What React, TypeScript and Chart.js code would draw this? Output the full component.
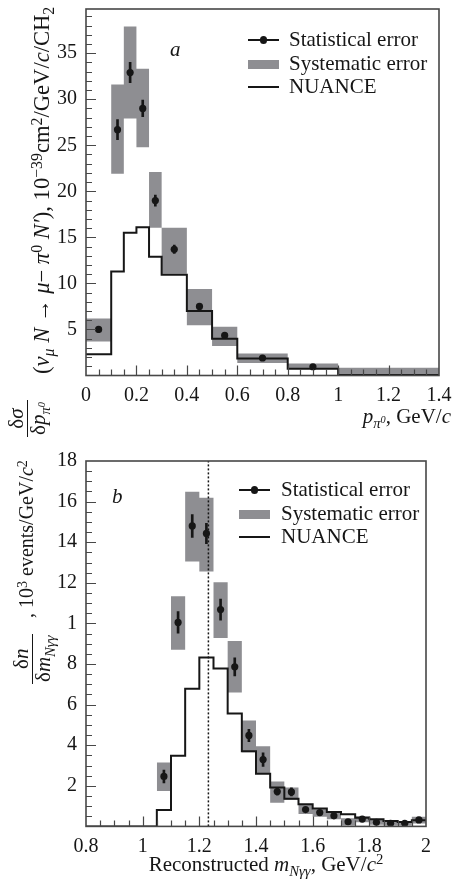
import React, { useEffect, useRef } from 'react';
import { Chart, registerables } from 'chart.js';

Chart.register(...registerables);

const SERIF = "'Liberation Serif', 'Times New Roman', serif";
const INK = '#161616';
const FRAME = '#474747';
const SYS_GRAY = '#8e8e92';

// ---------------- Panel a (pi0 momentum) ----------------
const aEdges = [0, 0.1, 0.15, 0.2, 0.25, 0.3, 0.4, 0.5, 0.6, 0.8, 1.0, 1.4];
const aSysHigh = [6.2, 31.6, 37.9, 33.3, 22.1, 16.05, 9.4, 5.3, 2.4, 1.3, 0.83];
const aSysLow = [3.7, 21.9, 27.9, 24.8, 16.05, 11.06, 5.45, 3.2, 1.37, 0.72, 0.1];
const aNuance = [2.3, 11.3, 15.5, 16.1, 12.9, 10.95, 7.0, 4.0, 1.84, 0.72, 0.05];
const aPointX = [0.05, 0.125, 0.175, 0.225, 0.275, 0.35, 0.45, 0.55, 0.7, 0.9];
const aValues = [5.0, 26.7, 32.9, 29.0, 19.0, 13.7, 7.5, 4.35, 1.9, 0.95];
const aStatErr = [0.35, 1.1, 1.1, 0.9, 0.6, 0.45, 0.3, 0.25, 0.2, 0.15];
const aXTickValues = [0, 0.2, 0.4, 0.6, 0.8, 1, 1.2, 1.4];
const aXTickLabels = ['0', '0.2', '0.4', '0.6', '0.8', '1', '1.2', '1.4'];
const aYTickValues = [5, 10, 15, 20, 25, 30, 35];
const aYTickLabels = ['5', '10', '15', '20', '25', '30', '35'];

// ---------------- Panel b (reconstructed N-gamma-gamma mass) ----------------
const bEdges = [0.8, 1.05, 1.1, 1.15, 1.2, 1.25, 1.3, 1.35, 1.4, 1.45, 1.5, 1.55, 1.6, 1.65, 1.7, 1.75, 1.8, 1.85, 1.9, 1.95, 2.0];
const bNuance = [0, 0.81, 3.48, 6.78, 8.32, 7.78, 5.56, 3.7, 2.59, 1.92, 1.36, 1.09, 0.88, 0.71, 0.6, 0.43, 0.35, 0.27, 0.22, 0.3];
const bSysEdges = [1.05, 1.1, 1.15, 1.2, 1.25, 1.3, 1.35, 1.4, 1.45, 1.5, 1.55, 1.6, 1.65, 1.7, 1.75, 1.8, 1.85, 1.9, 1.95, 2.0];
const bSysHigh = [3.15, 11.34, 16.49, 16.19, 12.03, 9.13, 5.22, 3.95, 2.21, 1.92, 1.08, 0.85, 0.7, 0.4, 0.5, 0.33, 0.25, 0.25, 0.47];
const bSysLow = [1.75, 8.7, 13.05, 12.56, 9.28, 6.59, 3.65, 2.58, 1.17, 1.31, 0.61, 0.48, 0.35, 0.05, 0.2, 0.08, 0.05, 0.05, 0.14];
const bPointX = [1.075, 1.125, 1.175, 1.225, 1.275, 1.325, 1.375, 1.425, 1.475, 1.525, 1.575, 1.625, 1.675, 1.725, 1.775, 1.825, 1.875, 1.925, 1.975];
const bValues = [2.46, 10.05, 14.8, 14.43, 10.68, 7.86, 4.48, 3.29, 1.72, 1.7, 0.83, 0.68, 0.52, 0.23, 0.36, 0.2, 0.15, 0.15, 0.32];
const bStatErr = [0.32, 0.53, 0.56, 0.5, 0.52, 0.45, 0.3, 0.33, 0.18, 0.2, 0.1, 0.1, 0.08, 0.06, 0.06, 0.05, 0.05, 0.05, 0.06];
const bDeltaMass = 1.232;
const bXTickValues = [0.8, 1, 1.2, 1.4, 1.6, 1.8, 2];
const bXTickLabels = ['0.8', '1', '1.2', '1.4', '1.6', '1.8', '2'];
const bYTickValues = [2, 4, 6, 8, 10, 12, 14, 16, 18];
const bYTickLabels = ['2', '4', '6', '8', '1', '12', '14', '16', '18'];

const legendLabels = ['Statistical error', 'Systematic error', 'NUANCE'];

// histogram outline: value of bin i held from edge i to edge i+1
function steps(edges: number[], vals: number[]) {
  const pts = [{ x: edges[0], y: vals[0] }];
  vals.forEach((v, i) => pts.push({ x: edges[i + 1], y: v }));
  return pts;
}

function errorBars(xs: number[], vals: number[], errs: number[]) {
  return xs.map((x, i) => ({ x, y: [vals[i] - errs[i], vals[i] + errs[i]] }));
}

const frameTicks = {
  id: 'frameTicks',
  afterDraw(chart: any, _args: any, opts: any) {
    const { ctx, chartArea: a, scales } = chart;
    const xs = scales.x;
    const ys = scales.y;
    ctx.save();
    ctx.strokeStyle = FRAME;
    ctx.lineWidth = 1.2;
    const isMajor = (v: number, step: number) => Math.abs(v / step - Math.round(v / step)) < 1e-6;
    const nx = Math.round((xs.max - xs.min) / opts.xMinor);
    ctx.beginPath();
    for (let i = 1; i < nx; i++) {
      const v = xs.min + i * opts.xMinor;
      const px = Math.round(xs.getPixelForValue(v)) + 0.5;
      const len = isMajor(v, opts.xMajor) ? 10 : 6;
      ctx.moveTo(px, a.bottom);
      ctx.lineTo(px, a.bottom - len);
    }
    const ny = Math.floor((ys.max - ys.min) / opts.yMinor + 1e-6);
    for (let i = 1; i <= ny; i++) {
      const v = ys.min + i * opts.yMinor;
      if (v >= ys.max - 1e-6) continue;
      const py = Math.round(ys.getPixelForValue(v)) + 0.5;
      const len = isMajor(v, opts.yMajor) ? 10 : 6;
      ctx.moveTo(a.left, py);
      ctx.lineTo(a.left + len, py);
    }
    ctx.stroke();
    ctx.lineWidth = 1.6;
    ctx.strokeRect(a.left, a.top, a.right - a.left, a.bottom - a.top);
    ctx.restore();
  },
};

interface PanelSpec {
  width: number;
  height: number;
  areaTop: number;
  padRight: number;
  xHeight: number;
  yWidth: number;
  xMin: number;
  xMax: number;
  yMax: number;
  xTickValues: number[];
  xTickLabels: string[];
  yTickValues: number[];
  yTickLabels: string[];
  ticks: { xMajor: number; xMinor: number; yMajor: number; yMinor: number };
  datasets: any[];
}

const labelFor = (vals: number[], labels: string[]) => (v: any) => {
  const i = vals.findIndex((t) => Math.abs(t - Number(v)) < 1e-9);
  return i >= 0 ? labels[i] : '';
};

function makeConfig(p: PanelSpec): any {
  const tickFont = { family: SERIF, size: 20 };
  return {
    type: 'scatter',
    data: { datasets: p.datasets },
    options: {
      responsive: false,
      maintainAspectRatio: false,
      animation: false,
      devicePixelRatio: 1,
      events: [],
      layout: { padding: { left: 0, top: p.areaTop, right: p.padRight, bottom: 0 } },
      plugins: {
        legend: { display: false },
        tooltip: { enabled: false },
        title: { display: false },
        frameTicks: p.ticks,
      },
      scales: {
        x: {
          type: 'linear',
          min: p.xMin,
          max: p.xMax,
          offset: false,
          grid: { display: false, drawTicks: false },
          border: { display: false },
          afterBuildTicks: (s: any) => {
            s.ticks = p.xTickValues.map((v) => ({ value: v }));
          },
          ticks: {
            callback: labelFor(p.xTickValues, p.xTickLabels),
            font: tickFont,
            color: INK,
            padding: 8,
            maxRotation: 0,
            minRotation: 0,
            autoSkip: false,
          },
          afterFit: (s: any) => {
            s.height = p.xHeight;
            s.paddingLeft = 0;
            s.paddingRight = 0;
          },
        },
        y: {
          type: 'linear',
          min: 0,
          max: p.yMax,
          grid: { display: false, drawTicks: false },
          border: { display: false },
          afterBuildTicks: (s: any) => {
            s.ticks = p.yTickValues.map((v) => ({ value: v }));
          },
          ticks: {
            callback: labelFor(p.yTickValues, p.yTickLabels),
            font: tickFont,
            color: INK,
            padding: 9,
            autoSkip: false,
          },
          afterFit: (s: any) => {
            s.width = p.yWidth;
            s.paddingTop = 0;
            s.paddingBottom = 0;
          },
        },
      },
    },
    plugins: [frameTicks],
  };
}

function commonDatasets(
  pointX: number[], values: number[], errs: number[],
  nuanceEdges: number[], nuance: number[],
  sysEdges: number[], sysHigh: number[], sysLow: number[],
) {
  return [
    {
      type: 'scatter',
      label: legendLabels[0],
      data: pointX.map((x, i) => ({ x, y: values[i] })),
      pointRadius: 3.6,
      pointBackgroundColor: INK,
      pointBorderWidth: 0,
      order: 0,
    },
    {
      type: 'bar',
      label: 'stat-bars',
      data: errorBars(pointX, values, errs),
      barThickness: 2,
      backgroundColor: INK,
      borderWidth: 0,
      order: 1,
    },
    {
      type: 'line',
      label: legendLabels[2],
      data: steps(nuanceEdges, nuance),
      stepped: 'after',
      borderColor: INK,
      borderWidth: 2,
      pointRadius: 0,
      fill: false,
      order: 2,
    },
    {
      type: 'line',
      label: legendLabels[1],
      data: steps(sysEdges, sysHigh),
      stepped: 'after',
      borderWidth: 0,
      borderColor: 'rgba(0,0,0,0)',
      backgroundColor: SYS_GRAY,
      pointRadius: 0,
      fill: '+1',
      order: 4,
    },
    {
      type: 'line',
      label: 'sys-low',
      data: steps(sysEdges, sysLow),
      stepped: 'after',
      borderWidth: 0,
      borderColor: 'rgba(0,0,0,0)',
      pointRadius: 0,
      fill: false,
      order: 5,
    },
  ];
}

const specA: PanelSpec = {
  width: 456,
  height: 440,
  areaTop: 9,
  padRight: 17,
  xHeight: 64.5,
  yWidth: 86,
  xMin: 0,
  xMax: 1.4,
  yMax: 39.8,
  xTickValues: aXTickValues,
  xTickLabels: aXTickLabels,
  yTickValues: aYTickValues,
  yTickLabels: aYTickLabels,
  ticks: { xMajor: 0.2, xMinor: 0.05, yMajor: 5, yMinor: 1 },
  datasets: commonDatasets(aPointX, aValues, aStatErr, aEdges, aNuance, aEdges, aSysHigh, aSysLow),
};

const specB: PanelSpec = {
  width: 456,
  height: 443,
  areaTop: 21,
  padRight: 30,
  xHeight: 56.6,
  yWidth: 86,
  xMin: 0.8,
  xMax: 2,
  yMax: 18,
  xTickValues: bXTickValues,
  xTickLabels: bXTickLabels,
  yTickValues: bYTickValues,
  yTickLabels: bYTickLabels,
  ticks: { xMajor: 0.2, xMinor: 0.05, yMajor: 2, yMinor: 0.5 },
  datasets: [
    ...commonDatasets(bPointX, bValues, bStatErr, bEdges, bNuance, bSysEdges, bSysHigh, bSysLow),
    {
      type: 'line',
      label: 'delta',
      data: [{ x: bDeltaMass, y: 0 }, { x: bDeltaMass, y: 18 }],
      borderColor: INK,
      borderWidth: 1.5,
      borderDash: [2, 2],
      pointRadius: 0,
      fill: false,
      order: 3,
    },
  ],
};

function ChartPanel({ spec, top }: { spec: PanelSpec; top: number }) {
  const ref = useRef<HTMLCanvasElement | null>(null);
  useEffect(() => {
    if (!ref.current) return;
    const chart = new Chart(ref.current, makeConfig(spec));
    return () => chart.destroy();
  }, [spec]);
  return (
    <div style={{ position: 'absolute', left: 0, top, width: spec.width, height: spec.height }}>
      <canvas ref={ref} width={spec.width} height={spec.height} style={{ display: 'block' }} />
    </div>
  );
}

const Sub = ({ children, italic }: { children: any; italic?: boolean }) => (
  <span style={{ fontSize: '0.7em', position: 'relative', top: '0.32em', fontStyle: italic ? 'italic' : 'normal' }}>{children}</span>
);
const Sup = ({ children }: { children: any }) => (
  <span style={{ fontSize: '0.7em', position: 'relative', top: '-0.45em' }}>{children}</span>
);

// text positioned by its baseline; line-height equals font-size
function TextAt({ left, right, baseline, size, children, center }: any) {
  const top = baseline - 0.8375 * size;
  const style: any = {
    position: 'absolute',
    top,
    fontFamily: SERIF,
    fontSize: size,
    lineHeight: `${size}px`,
    whiteSpace: 'nowrap',
    color: INK,
  };
  if (left !== undefined) style.left = left;
  if (right !== undefined) style.right = right;
  if (center) style.transform = 'translateX(-50%)';
  return <div style={style}>{children}</div>;
}

// rotated (reads bottom to top); left = screen x of text top edge, start = screen y where text begins
function Rotated({ left, start, size, children }: any) {
  return (
    <div
      style={{
        position: 'absolute',
        left,
        top: start,
        transformOrigin: '0 0',
        transform: 'rotate(-90deg)',
        fontFamily: SERIF,
        fontSize: size,
        lineHeight: `${size}px`,
        whiteSpace: 'nowrap',
        color: INK,
      }}
    >
      {children}
    </div>
  );
}

function Fraction({ num, den }: any) {
  return (
    <div style={{ display: 'inline-flex', flexDirection: 'column', alignItems: 'center' }}>
      <span style={{ padding: '0 2px' }}>{num}</span>
      <div style={{ alignSelf: 'stretch', height: 1.2, background: INK }} />
      <span style={{ padding: '0 2px' }}>{den}</span>
    </div>
  );
}

function Legend({ markerLeft, textLeft, centers, size }: any) {
  const kinds = ['stat', 'sys', 'line'];
  return (
    <>
      {kinds.map((k, i) => {
        const c = centers[i];
        return (
          <React.Fragment key={k}>
            {k === 'sys' ? (
              <div style={{ position: 'absolute', left: markerLeft, top: c - 4, width: 31, height: 9, background: SYS_GRAY }} />
            ) : (
              <div style={{ position: 'absolute', left: markerLeft, top: c - 1, width: 31, height: 2, background: INK }} />
            )}
            {k === 'stat' && (
              <div style={{ position: 'absolute', left: markerLeft + 15.5 - 3.6, top: c - 3.6, width: 7.2, height: 7.2, borderRadius: '50%', background: INK }} />
            )}
            <TextAt left={textLeft} baseline={c + 7} size={size}>{legendLabels[i]}</TextAt>
          </React.Fragment>
        );
      })}
    </>
  );
}

export default function App() {
  return (
    <div style={{ position: 'absolute', left: 0, top: 0, width: 456, height: 883, background: '#fff', overflow: 'hidden' }}>
      <ChartPanel spec={specA} top={0} />
      <ChartPanel spec={specB} top={440} />

      {/* Panel a annotations */}
      <TextAt left={170} baseline={57} size={21}><i>a</i></TextAt>
      <Legend markerLeft={248} textLeft={289} centers={[40, 63.5, 87]} size={21} />
      <TextAt right={5} baseline={424} size={21}>
        <i>p</i><Sub italic>π<Sup>0</Sup></Sub>, GeV/<i>c</i>
      </TextAt>
      <Rotated left={6} start={437} size={21}>
        <Fraction num={<>δ<i>σ</i></>} den={<>δ<i>p</i><Sub italic>π<Sup>0</Sup></Sub></>} />
      </Rotated>
      <Rotated left={31} start={374} size={22.6}>
        (<i>ν</i><Sub italic>μ</Sub> <i>N</i> → <i>μ</i>− <i>π</i><Sup>0</Sup> <i>N′</i>), 10<Sup>−39</Sup>cm<Sup>2</Sup>/GeV/<i>c</i>/CH<Sub>2</Sub>
      </Rotated>

      {/* Panel b annotations */}
      <TextAt left={112} baseline={504} size={21}><i>b</i></TextAt>
      <Legend markerLeft={239} textLeft={281} centers={[490, 513.5, 537]} size={21} />
      <TextAt left={266} baseline={871.5} size={21} center>
        Reconstructed <i>m</i><Sub italic>Nγγ</Sub>, GeV/<i>c</i><Sup>2</Sup>
      </TextAt>
      <Rotated left={11} start={684} size={21}>
        <Fraction num={<>δ<i>n</i></>} den={<>δ<i>m</i><Sub italic>Nγγ</Sub></>} />
      </Rotated>
      <Rotated left={16} start={618} size={20}>
        , 10<Sup>3</Sup> events/GeV/<i>c</i><Sup>2</Sup>
      </Rotated>
    </div>
  );
}
